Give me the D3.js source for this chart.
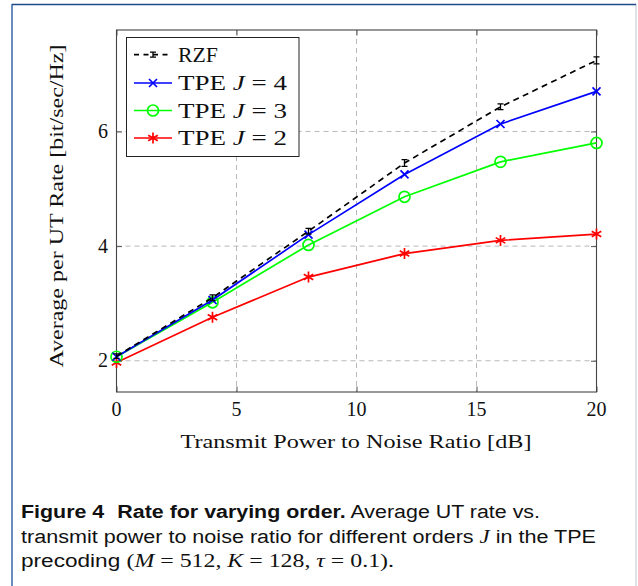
<!DOCTYPE html>
<html><head><meta charset="utf-8">
<script src="https://cdn.jsdelivr.net/npm/d3@7"></script>
<style>body{margin:0;background:#fff}svg{display:block}</style>
</head><body>
<svg id="c" width="638" height="586"></svg>
<script>
const xValues = [0, 4, 8, 12, 16, 20];
const rzf = [2.08, 3.10, 4.26, 5.45, 6.43, 7.24];
const rzfErr = [0.04, 0.05, 0.05, 0.06, 0.05, 0.06];
const tpe4 = [2.07, 3.06, 4.20, 5.25, 6.13, 6.70];
const tpe3 = [2.07, 3.02, 4.02, 4.86, 5.47, 5.80];
const tpe2 = [1.97, 2.76, 3.46, 3.87, 4.10, 4.21];
const xTicks = [0, 5, 10, 15, 20];
const yTicks = [2, 4, 6];
const legendLabels = ["RZF", "TPE J = 4", "TPE J = 3", "TPE J = 2"];

const svg = d3.select("#c");
const serif = "'Liberation Serif', 'Times New Roman', serif";
const sans = "'Liberation Sans', Arial, sans-serif";

// outer frame
svg.append("line").attr("x1",12).attr("x2",12).attr("y1",4).attr("y2",586).attr("stroke","#3a66a8").attr("stroke-width",1.5);
svg.append("line").attr("x1",636).attr("x2",636).attr("y1",4).attr("y2",586).attr("stroke","#c8d0dc").attr("stroke-width",1.2);
svg.append("line").attr("x1",12).attr("x2",636).attr("y1",4.5).attr("y2",4.5).attr("stroke","#1e4a8a").attr("stroke-width",1.6);

const L = 116.5, R = 596.5, T = 30, B = 392;
const x = d3.scaleLinear().domain([0, 20]).range([L, R]);
const y = d3.scaleLinear().domain([1.455, 7.77]).range([B, T]);

// grid
const g = svg.append("g");
g.selectAll(".gx").data(xTicks.filter(d => d > 0 && d < 20)).enter().append("line")
  .attr("x1", d => x(d)).attr("x2", d => x(d)).attr("y1", T).attr("y2", B)
  .attr("stroke", "#b8b8b8").attr("stroke-width", 1).attr("stroke-dasharray", "5,4");
g.selectAll(".gy").data(yTicks).enter().append("line")
  .attr("x1", L).attr("x2", R).attr("y1", d => y(d)).attr("y2", d => y(d))
  .attr("stroke", "#b8b8b8").attr("stroke-width", 1).attr("stroke-dasharray", "5,4");

// axes with inward ticks on all sides
const tickLen = 5.5;
const axB = d3.axisBottom(x).tickValues(xTicks).tickSize(-tickLen).tickFormat("");
const axT = d3.axisTop(x).tickValues(xTicks).tickSize(-tickLen).tickFormat("");
const axL = d3.axisLeft(y).tickValues(yTicks).tickSize(-tickLen).tickFormat("");
const axR = d3.axisRight(y).tickValues(yTicks).tickSize(-tickLen).tickFormat("");
[[axB, `translate(0,${B})`], [axT, `translate(0,${T})`], [axL, `translate(${L},0)`], [axR, `translate(${R},0)`]].forEach(([a, t]) => {
  const ga = svg.append("g").attr("transform", t).call(a);
  ga.select(".domain").remove();
  ga.selectAll(".tick line").attr("stroke", "#555").attr("stroke-width", 1);
});
svg.append("rect").attr("x", L).attr("y", T).attr("width", R - L).attr("height", B - T)
  .attr("fill", "none").attr("stroke", "#444").attr("stroke-width", 1.1);

// tick labels
svg.selectAll(".xl").data(xTicks).enter().append("text")
  .attr("x", d => x(d)).attr("y", 416).attr("text-anchor", "middle")
  .attr("font-family", serif).attr("font-size", 20).attr("fill", "#111").text(d => d);
svg.selectAll(".yl").data(yTicks).enter().append("text")
  .attr("x", 108).attr("y", d => y(d) + 6.5).attr("text-anchor", "end")
  .attr("font-family", serif).attr("font-size", 20).attr("fill", "#111").text(d => d);

// axis titles
svg.append("text").attr("x", 356).attr("y", 448).attr("text-anchor", "middle")
  .attr("font-family", serif).attr("font-size", 19).attr("fill", "#111")
  .attr("textLength", 351).attr("lengthAdjust", "spacingAndGlyphs")
  .text("Transmit Power to Noise Ratio [dB]");
svg.append("text").attr("transform", "translate(63,206) rotate(-90)").attr("text-anchor", "middle")
  .attr("font-family", serif).attr("font-size", 19).attr("fill", "#111")
  .attr("textLength", 323).attr("lengthAdjust", "spacingAndGlyphs")
  .text("Average per UT Rate [bit/sec/Hz]");

const line = d3.line().x((d, i) => x(xValues[i])).y(d => y(d));
const lw = 1.7;

// markers
function cross(sel, cx, cy, col) {
  const s = 4;
  sel.append("path").attr("d", `M${cx-s},${cy-s}L${cx+s},${cy+s}M${cx-s},${cy+s}L${cx+s},${cy-s}`)
    .attr("stroke", col).attr("stroke-width", 1.7).attr("fill", "none");
}
function circ(sel, cx, cy, col) {
  sel.append("circle").attr("cx", cx).attr("cy", cy).attr("r", 5.5)
    .attr("stroke", col).attr("stroke-width", 1.7).attr("fill", "none");
}
function star(sel, cx, cy, col) {
  const s = 5.5; let d = "";
  for (let k = 0; k < 3; k++) {
    const a = Math.PI / 2 + k * Math.PI / 3;
    d += `M${cx + s*Math.cos(a)},${cy - s*Math.sin(a)}L${cx - s*Math.cos(a)},${cy + s*Math.sin(a)}`;
  }
  sel.append("path").attr("d", d).attr("stroke", col).attr("stroke-width", 1.7).attr("fill", "none");
}
function ebar(sel, cx, cy1, cy2, col) {
  const w = 3;
  sel.append("path").attr("d", `M${cx},${cy1}L${cx},${cy2}M${cx-w},${cy1}L${cx+w},${cy1}M${cx-w},${cy2}L${cx+w},${cy2}`)
    .attr("stroke", col).attr("stroke-width", 1.3).attr("fill", "none");
}

const series = [
  {v: tpe2, c: "#ff0000", m: star},
  {v: tpe3, c: "#00ff00", m: circ},
  {v: tpe4, c: "#0000ff", m: cross},
];
const pg = svg.append("g");
series.forEach(s => {
  pg.append("path").datum(s.v).attr("d", line).attr("fill", "none")
    .attr("stroke", s.c).attr("stroke-width", lw).attr("stroke-linejoin", "round");
  s.v.forEach((v, i) => s.m(pg, x(xValues[i]), y(v), s.c));
});
pg.append("path").datum(rzf).attr("d", line).attr("fill", "none")
  .attr("stroke", "#000").attr("stroke-width", lw).attr("stroke-dasharray", "6,4.5");
rzf.forEach((v, i) => ebar(pg, x(xValues[i]), y(v + rzfErr[i]), y(v - rzfErr[i]), "#000"));

// legend
const lg = svg.append("g");
lg.append("rect").attr("x", 126.5).attr("y", 37.5).attr("width", 172.5).attr("height", 119)
  .attr("fill", "#fff").attr("stroke", "#222").attr("stroke-width", 1);
const rows = [54.7, 83, 110.5, 138];
const lcol = ["#000", "#0000ff", "#00ff00", "#ff0000"];
const lmk = [null, cross, circ, star];
const lLen = [40, 109, 109, 109];
rows.forEach((ry, i) => {
  const l = lg.append("line").attr("x1", 134).attr("x2", 172).attr("y1", ry).attr("y2", ry)
    .attr("stroke", lcol[i]).attr("stroke-width", lw);
  if (i === 0) { l.attr("stroke-dasharray", "5,4.5"); ebar(lg, 153, ry - 2.5, ry + 2.5, "#000"); }
  else lmk[i](lg, 153, ry, lcol[i]);
  const t = lg.append("text").attr("x", 178).attr("y", ry + 7)
    .attr("font-family", serif).attr("font-size", 20).attr("fill", "#111")
    .attr("textLength", lLen[i]).attr("lengthAdjust", "spacingAndGlyphs");
  const parts = legendLabels[i].split("J");
  if (parts.length === 1) t.text(legendLabels[i]);
  else {
    t.append("tspan").text(parts[0]);
    t.append("tspan").attr("font-style", "italic").text("J");
    t.append("tspan").text(parts[1]);
  }
});

// caption
const cap = svg.append("g").attr("font-family", sans).attr("font-size", 18).attr("fill", "#111");
const c1 = cap.append("text").attr("x", 21).attr("y", 518)
  .attr("textLength", 519).attr("lengthAdjust", "spacingAndGlyphs");
c1.append("tspan").attr("font-weight", "bold").text("Figure 4");
c1.append("tspan").attr("font-weight", "bold").attr("dx", 6).text(" Rate for varying order.");
c1.append("tspan").text(" Average UT rate vs.");
const c2 = cap.append("text").attr("x", 21).attr("y", 542.5)
  .attr("textLength", 575).attr("lengthAdjust", "spacingAndGlyphs");
c2.append("tspan").text("transmit power to noise ratio for different orders ");
c2.append("tspan").attr("font-family", serif).attr("font-style", "italic").attr("font-size", 19).text("J");
c2.append("tspan").text(" in the TPE");
const c3 = cap.append("text").attr("x", 21).attr("y", 567)
  .attr("textLength", 373).attr("lengthAdjust", "spacingAndGlyphs");
c3.append("tspan").text("precoding ");
c3.append("tspan").attr("font-family", serif).attr("font-size", 19).text("(");
c3.append("tspan").attr("font-family", serif).attr("font-style", "italic").attr("font-size", 19).text("M");
c3.append("tspan").attr("font-family", serif).attr("font-size", 19).text(" = 512, ");
c3.append("tspan").attr("font-family", serif).attr("font-style", "italic").attr("font-size", 19).text("K");
c3.append("tspan").attr("font-family", serif).attr("font-size", 19).text(" = 128, ");
c3.append("tspan").attr("font-family", serif).attr("font-style", "italic").attr("font-size", 19).text("τ");
c3.append("tspan").attr("font-family", serif).attr("font-size", 19).text(" = 0.1).");
</script>
</body></html>
